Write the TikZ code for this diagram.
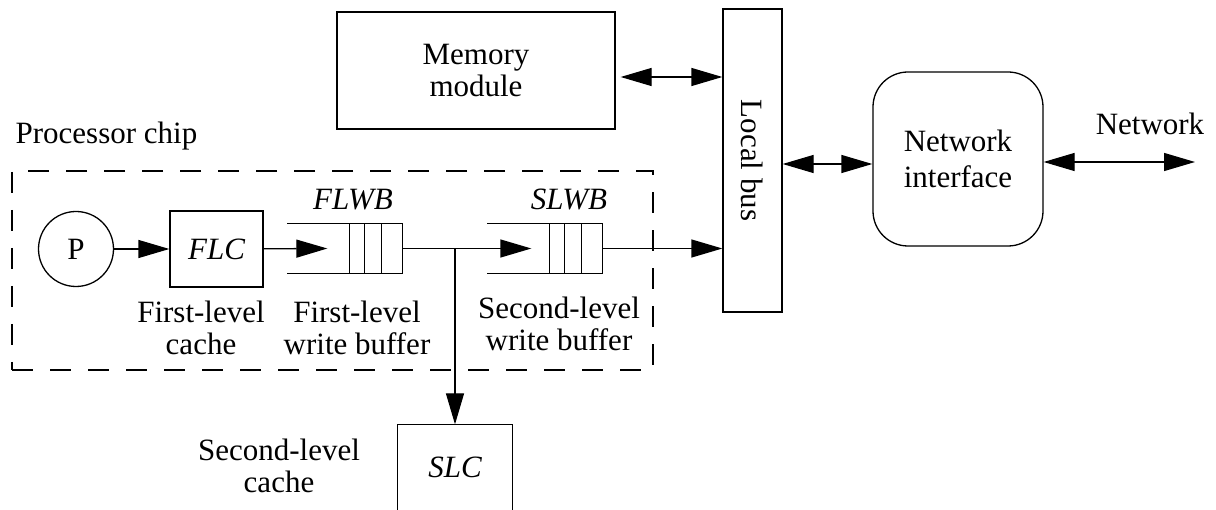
\documentclass[tikz,border=0pt]{standalone}
\usepackage{fontspec}
\setmainfont{Liberation Serif}
\usetikzlibrary{arrows.meta,positioning}

\tikzset{
    box/.style={draw, rectangle},
    buffer/.style={minimum width=114pt, minimum height=49pt},
    link/.style={-{Triangle[length=31pt,width=18pt]}},
    duplex/.style={{Triangle[length=31pt,width=18pt]}-{Triangle[length=31pt,width=18pt]}}
}

\begin{document}
\begin{tikzpicture}[x=1pt, y=-1pt, line width=1.3pt,
        font=\fontsize{31}{32}\selectfont,
        every node/.style={inner sep=0pt, align=center}]
        \useasboundingbox (0,0) rectangle (1216,510);

        \node[draw, dash pattern=on 21pt off 17pt, minimum width=641pt, minimum height=199pt] (chip) at (332.5,270.5) {};
        \node[anchor=base west] (chiplabel) at (15,144) {Processor chip};

        \node[draw, circle, minimum size=75pt] (p) at (76,249) {P};
        \node[box, minimum width=93pt, minimum height=76pt] (flc) at (216.5,249) {\itshape FLC};
        \node[buffer] (flwb) at (345,248.5) {};
        \node[buffer] (slwb) at (545,248.5) {};
        \node[anchor=base] (flwbname) at (353,210) {\itshape FLWB};
        \node[anchor=base] (slwbname) at (569,210) {\itshape SLWB};

        \node (flclabel) at (201,328) {First-level\\cache};
        \node (flwblabel) at (357,328) {First-level\\write buffer};
        \node (slwblabel) at (559,324) {Second-level\\write buffer};

        \node[minimum width=114pt, minimum height=85pt] (slc) at (455,467.5) {\itshape SLC};
        \node (slclabel) at (279,465.5) {Second-level\\cache};

        \node[box, minimum width=278pt, minimum height=117pt] (mem) at (476,70.5) {Memory\\module};
        \node[box, minimum width=59pt, minimum height=303pt] (bus) at (752.5,160.5) {\rotatebox{-90}{Local bus}};
        \node[draw, rounded corners=35pt, minimum width=170pt, minimum height=174pt,
            font=\fontsize{31}{36}\selectfont] (ni) at (958,159) {Network\\interface};
        \node[anchor=base] (netlabel) at (1150,135) {Network};

        \foreach \b in {flwb,slwb} {
            \draw (\b.north west) -- (\b.north east) -- (\b.south east) -- (\b.south west);
            \foreach \d in {21,38,53}
                \draw ([xshift=-\d pt]\b.north east) -- ([xshift=-\d pt]\b.south east);
        }
        \draw (slc.south west) -- (slc.north west) -- (slc.north east) -- (slc.south east);

        \coordinate (flwbin) at ([xshift=40pt]flwb.west);
        \coordinate (slwbin) at ([xshift=44pt]slwb.west);
        \coordinate (tap) at (455,248.5);
        \coordinate (memport) at ([xshift=5pt,yshift=-6.5pt]mem.east);
        \coordinate (busmem) at (memport -| bus.west);
        \coordinate (busnet) at ([yshift=-3.5pt]bus.east);
        \coordinate (niport) at (busnet -| ni.west);
        \coordinate (net) at (1195,162);

        \draw[link] (p) -- (flc);
        \draw[link] (flc) -- (flwbin);
        \draw[link] (flwb.east) -- (slwbin);
        \draw[link] (tap) -- (slc.north);
        \draw[link] (slwb.east) -- (slwb.east -| bus.west);
        \draw[duplex] (memport) -- (busmem);
        \draw[duplex] (busnet) -- (niport);
        \draw[duplex] (ni.east |- net) -- (net);
    \end{tikzpicture}
\end{document}
